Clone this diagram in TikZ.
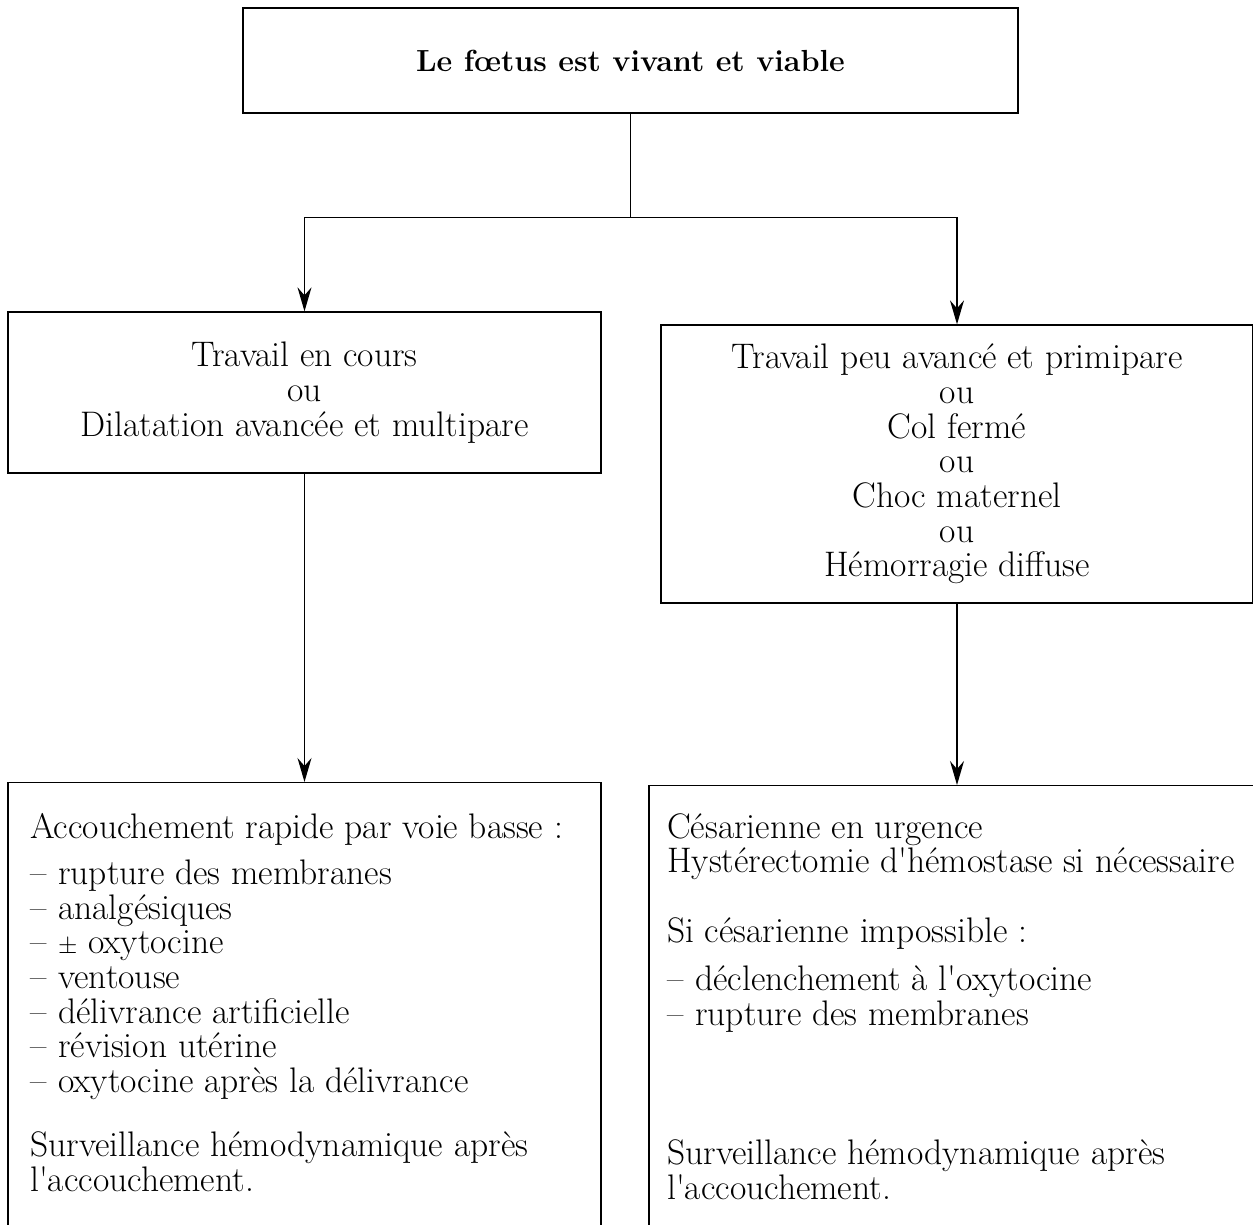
\documentclass[tikz,border=0pt]{standalone}
\usetikzlibrary{arrows.meta,positioning}
\tikzset{
  boite/.style={draw, line width=1.3pt, inner sep=0pt, align=center, font=\fontsize{35.5}{34.7}\selectfont},
  fleche/.style={line width=1.3pt, -{Stealth[length=24pt,width=14pt,inset=8pt]}},
  texte/.style={font=\fontsize{35.5}{34.7}\selectfont, align=left, anchor=north west, inner sep=0pt},
}
\newcommand{\tiret}{\makebox[28pt][l]{--}}
\newcommand{\apos}{\textquotesingle}

\begin{document}
\begin{tikzpicture}[x=1pt,y=-1pt]
\useasboundingbox (0,0) rectangle (1253,1225);
\clip (0,0) rectangle (1253,1225);
% boxes
\node[boite, minimum width=775pt, minimum height=105pt, font=\bfseries\fontsize{30.5}{34.7}\selectfont] (foetus) at (630.5,60.5) {Le f\oe tus est vivant et viable};
\node[boite, minimum width=593pt, minimum height=161pt] (cours) at (304.5,392.5) {Travail en cours\\ou\\Dilatation avanc\'ee et multipare};
\node[boite, minimum width=592pt, minimum height=278pt] (ferme) at (957,464) {Travail peu avanc\'e et primipare\\ou\\Col ferm\'e\\ou\\Choc maternel\\ou\\H\'emorragie diffuse};
\node[boite, anchor=north, minimum width=593pt, minimum height=600pt] (basse) at (304.5,782) {};
\node[boite, anchor=north, minimum width=616pt, minimum height=600pt] (urgence) at (957,785) {};
% texts of the lower boxes
\node[texte] (basse-txt) at (30,813) {Accouchement rapide par voie basse :\\[11.3pt]
\tiret rupture des membranes\\
\tiret analg\'esiques\\
\tiret $\pm$ oxytocine\\
\tiret ventouse\\
\tiret d\'elivrance artificielle\\
\tiret r\'evision ut\'erine\\
\tiret oxytocine apr\`es la d\'elivrance\\[29.3pt]
Surveillance h\'emodynamique apr\`es\\
l\apos accouchement.};
\node[texte] (urgence-txt) at (667,813) {C\'esarienne en urgence\\
Hyst\'erectomie d\apos h\'emostase si n\'ecessaire\\[35.3pt]
Si c\'esarienne impossible :\\[13.3pt]
\tiret d\'eclenchement \`a l\apos oxytocine\\
\tiret rupture des membranes\\[104.3pt]
Surveillance h\'emodynamique apr\`es\\
l\apos accouchement.};
% connectors
\draw[line width=1.3pt] (foetus.south) -- ++(0,104) coordinate (fourche);
\draw[fleche] (fourche) -| (cours.north);
\draw[fleche] (fourche) -| (ferme.north);
\draw[fleche] (cours.south) -- (basse.north);
\draw[fleche] (ferme.south) -- (urgence.north);
\end{tikzpicture}
\end{document}
